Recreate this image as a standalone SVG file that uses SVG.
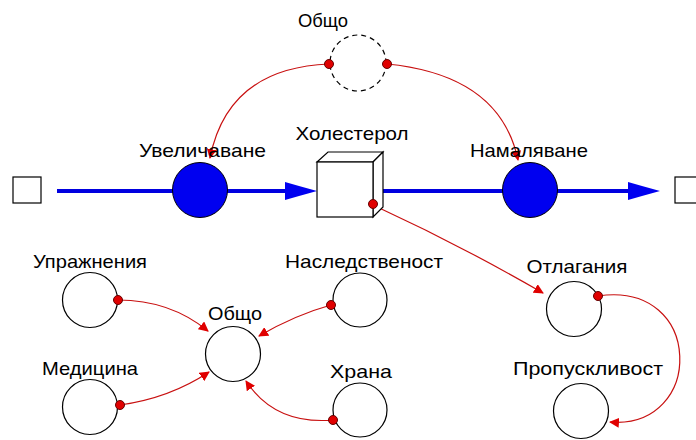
<svg xmlns="http://www.w3.org/2000/svg" width="696" height="440" viewBox="0 0 696 440">
<style>
text{font-family:"Liberation Sans",Arial,sans-serif;font-size:19px;fill:#000;text-anchor:middle}
.aux{fill:#fff;stroke:#000;stroke-width:1.2}
.flow{stroke:#0000e0;stroke-width:4;fill:none}
.valve{fill:#0000f0;stroke:#000;stroke-width:1}
.link{fill:none;stroke:#c81010;stroke-width:1.2}
.dot{fill:#e00000;stroke:#600;stroke-width:1}
</style>
<defs>
<marker id="ah" viewBox="0 0 10 10" refX="9" refY="5" markerWidth="10" markerHeight="10" markerUnits="userSpaceOnUse" orient="auto">
<path d="M0,0 L10,5 L0,10 z" fill="#e00000"/>
</marker>
</defs>
<rect width="696" height="440" fill="#fff"/>
<g id="connectors">
<line class="flow" x1="57" y1="191" x2="290" y2="191"/>
<polygon points="285,182 299,186 317,191 299,196 285,200" fill="#0000f0"/>
<line class="flow" x1="373" y1="191" x2="633" y2="191"/>
<polygon points="628,182 642,186 660,191 642,196 628,200" fill="#0000f0"/>
<path class="link" d="M329,64 Q228,68 210,158" marker-end="url(#ah)"/>
<path class="link" d="M387,64 Q500,75 518,160" marker-end="url(#ah)"/>
<path class="link" d="M373,205 Q460,245 543,293" marker-end="url(#ah)"/>
<path class="link" d="M118,300 Q170,300 208,331" marker-end="url(#ah)"/>
<path class="link" d="M120,405 Q170,398 209,372" marker-end="url(#ah)"/>
<path class="link" d="M331,305 Q295,315 259,336" marker-end="url(#ah)"/>
<path class="link" d="M333,420 Q275,425 246,381" marker-end="url(#ah)"/>
<path class="link" d="M598,296 C705,280 705,430 610,422" marker-end="url(#ah)"/>
</g>
<g id="source"><rect class="aux" x="13" y="177" width="28" height="26"/></g>
<g id="sink"><rect class="aux" x="675" y="177" width="28" height="26"/></g>
<g id="uvelichavane">
<circle class="valve" cx="200" cy="190" r="27.5"/>
<text x="202.5" y="157" textLength="127" lengthAdjust="spacingAndGlyphs">Увеличаване</text>
</g>
<g id="namalyavane">
<circle class="valve" cx="530" cy="190" r="27.5"/>
<text x="529" y="157" textLength="118" lengthAdjust="spacingAndGlyphs">Намаляване</text>
</g>
<g id="holesterol">
<polygon class="aux" points="317,162 328,152 383,152 373,162"/>
<polygon class="aux" points="373,162 383,152 383,207 373,217"/>
<rect class="aux" x="317" y="162" width="56" height="55"/>
<text x="352" y="140" textLength="113" lengthAdjust="spacingAndGlyphs">Холестерол</text>
</g>
<g id="obshto-top">
<circle cx="358" cy="63" r="28" fill="none" stroke="#000" stroke-width="1.2" stroke-dasharray="5,4"/>
<text x="323" y="27" textLength="50" lengthAdjust="spacingAndGlyphs">Общо</text>
</g>
<g id="uprazhneniya">
<circle class="aux" cx="90" cy="300" r="27.5"/>
<text x="90" y="268" textLength="114" lengthAdjust="spacingAndGlyphs">Упражнения</text>
</g>
<g id="meditsina">
<circle class="aux" cx="90" cy="407" r="27.5"/>
<text x="90" y="375" textLength="96" lengthAdjust="spacingAndGlyphs">Медицина</text>
</g>
<g id="obshto">
<circle class="aux" cx="233" cy="354" r="27.5"/>
<text x="235" y="320" textLength="54" lengthAdjust="spacingAndGlyphs">Общо</text>
</g>
<g id="nasledstvenost">
<circle class="aux" cx="360" cy="300" r="27"/>
<text x="364" y="268" textLength="158" lengthAdjust="spacingAndGlyphs">Наследственост</text>
</g>
<g id="hrana">
<circle class="aux" cx="360" cy="410" r="27"/>
<text x="361" y="378" textLength="62" lengthAdjust="spacingAndGlyphs">Храна</text>
</g>
<g id="otlagania">
<circle class="aux" cx="574" cy="309" r="27.5"/>
<text x="577" y="273" textLength="101" lengthAdjust="spacingAndGlyphs">Отлагания</text>
</g>
<g id="propusklivost">
<circle class="aux" cx="581" cy="411" r="27.5"/>
<text x="588" y="375" textLength="150" lengthAdjust="spacingAndGlyphs">Пропускливост</text>
</g>
<g id="dots">
<circle class="dot" cx="329" cy="64" r="4.5"/>
<circle class="dot" cx="387" cy="64" r="4.5"/>
<circle class="dot" cx="373" cy="204" r="4.5"/>
<circle class="dot" cx="118" cy="300" r="4.5"/>
<circle class="dot" cx="120" cy="405" r="4.5"/>
<circle class="dot" cx="331" cy="305" r="4.5"/>
<circle class="dot" cx="333" cy="420" r="4.5"/>
<circle class="dot" cx="598" cy="296" r="4.5"/>
</g>
</svg>
